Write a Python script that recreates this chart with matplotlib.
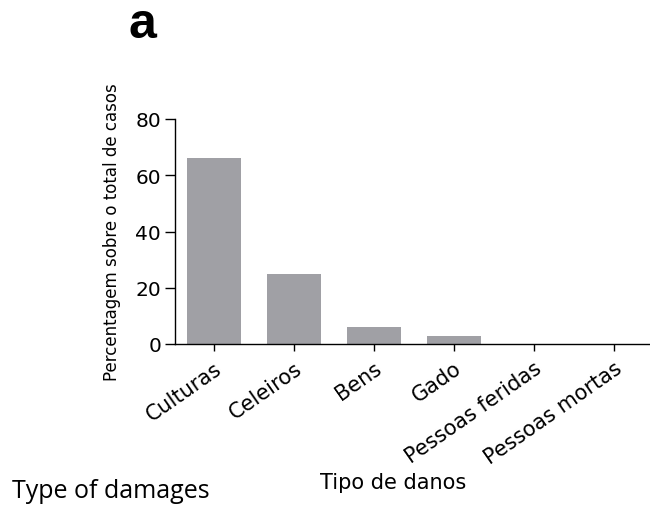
import matplotlib
matplotlib.use("Agg")
import matplotlib.pyplot as plt

categories = ["Culturas", "Celeiros", "Bens", "Gado", "Pessoas feridas", "Pessoas mortas"]
values = [66, 25, 6, 3, 0, 0]
yticks = [0, 20, 40, 60, 80]

plt.rcParams['font.family'] = ['DejaVu Sans']

W, H = 650, 506
fig = plt.figure(figsize=(W / 100, H / 100), dpi=100)
# axes in pixel coords: left 175, right 650, top 120, bottom 345
ax = fig.add_axes([175 / W, 1 - 345 / H, (650 - 175) / W, (345 - 120) / H])

x = range(len(categories))
ax.bar(x, values, width=0.68, color="#a0a0a5")

ax.set_xlim(-0.49, 5.45)
ax.set_ylim(0, 80)
ax.set_yticks(yticks)
ax.set_xticks(list(x))
ax.set_xticklabels(categories, rotation=35, ha="right", va="top",
                   rotation_mode="anchor", fontsize=15)
ax.tick_params(axis="y", labelsize=14.5, length=7, width=1, direction="out", pad=3)
ax.tick_params(axis="x", length=5, width=1, direction="out", pad=5)

for s in ["top", "right"]:
    ax.spines[s].set_visible(False)
for s in ["left", "bottom"]:
    ax.spines[s].set_linewidth(1)

ax.yaxis.set_label_coords((112 - 175) / (650 - 175), 0.5)
ax.set_ylabel("Percentagem sobre o total de casos", fontsize=12, va="center")

fig.text(393 / W, 1 - 483 / H, "Tipo de danos", ha="center", va="center", fontsize=15)
fig.text(142 / W, 1 - 38 / H, "a", ha="center", va="baseline", fontsize=36,
         fontweight="bold", family="Liberation Sans")
fig.text(12 / W, 1 - 498 / H, "Type of damages", ha="left", va="baseline",
         fontsize=18, family="Open Sans")

fig.savefig("out.png", dpi=100)
